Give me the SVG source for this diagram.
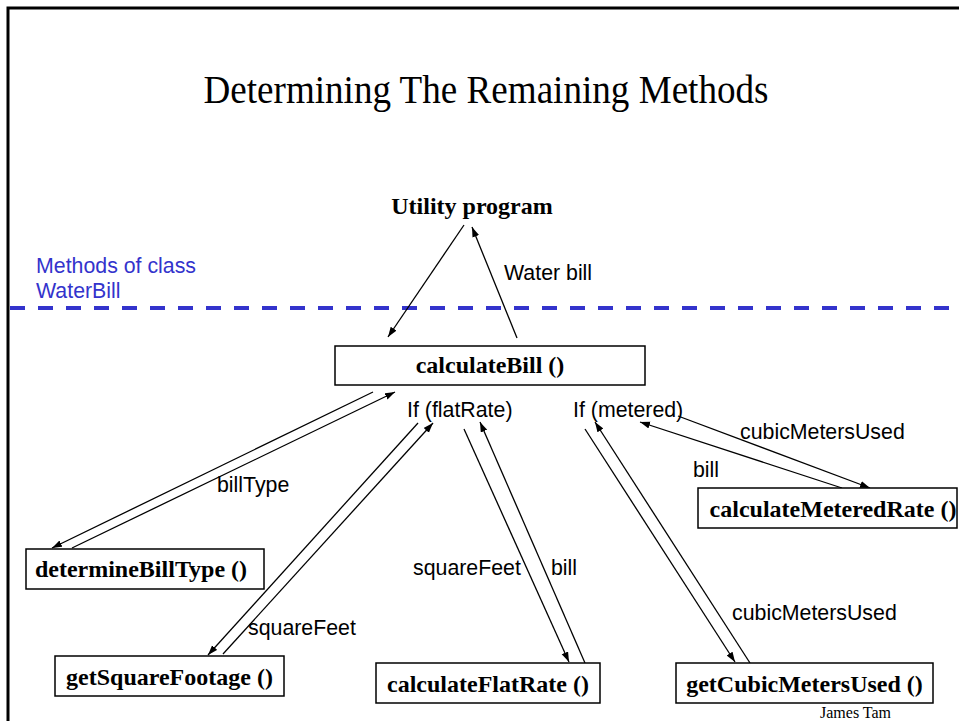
<svg xmlns="http://www.w3.org/2000/svg" width="959" height="721" viewBox="0 0 959 721">
<style>
.frame{fill:none;stroke:#000;stroke-width:3}
.box{fill:#fff;stroke:#000;stroke-width:1.5}
.bt{font-family:"Liberation Serif","Times New Roman",serif;font-weight:bold;font-size:24px;fill:#000;text-anchor:middle}
.lbl{font-family:"Liberation Sans",Arial,sans-serif;font-size:21.33px;fill:#000}
.blue{font-family:"Liberation Sans",Arial,sans-serif;font-size:21.33px;fill:#3333CC}
.title{font-family:"Liberation Serif","Times New Roman",serif;font-size:39px;fill:#000;text-anchor:middle}
.conn line{stroke:#000;stroke-width:1.3;marker-end:url(#ah)}
.dash{stroke:#3333CC;stroke-width:4;stroke-dasharray:15 13}
</style>
<defs>
<marker id="ah" markerUnits="userSpaceOnUse" markerWidth="11" markerHeight="8" refX="10" refY="3.5" orient="auto">
<path d="M0,0 L10,3.5 L0,7 z" fill="#000"/>
</marker>
</defs>
<rect width="959" height="721" fill="#fff"/>
<path class="frame" d="M8,721 V8 H959"/>
<text class="title" x="486" y="103" textLength="565" lengthAdjust="spacingAndGlyphs">Determining The Remaining Methods</text>
<g id="utility"><text class="bt" x="472" y="214">Utility program</text></g>
<g id="classlabel"><text class="blue" x="36" y="273">Methods of class</text><text class="blue" x="36" y="298">WaterBill</text></g>
<line class="dash" x1="10" y1="308" x2="959" y2="308"/>
<g class="conn" id="connectors">
<line x1="464" y1="225" x2="388" y2="337"/>
<line x1="517" y1="338" x2="472" y2="227"/>
<line x1="373" y1="392" x2="52" y2="548"/>
<line x1="72" y1="548" x2="395" y2="392"/>
<line x1="418" y1="423" x2="208" y2="655"/>
<line x1="223" y1="654" x2="433" y2="423"/>
<line x1="464" y1="429" x2="569" y2="662"/>
<line x1="585" y1="663" x2="480" y2="422"/>
<line x1="585" y1="429" x2="735" y2="662"/>
<line x1="750" y1="663" x2="595" y2="422"/>
<line x1="678" y1="416" x2="870" y2="488"/>
<line x1="842" y1="488" x2="640" y2="422"/>
</g>
<g id="calculateBill"><rect class="box" x="335" y="346" width="310" height="39"/><text class="bt" x="490" y="373">calculateBill ()</text></g>
<g id="determineBillType"><rect class="box" x="26" y="549" width="238" height="40"/><text class="bt" x="141" y="577">determineBillType ()</text></g>
<g id="getSquareFootage"><rect class="box" x="55" y="656" width="229" height="40"/><text class="bt" x="169.5" y="685">getSquareFootage ()</text></g>
<g id="calculateFlatRate"><rect class="box" x="376" y="663" width="224" height="40"/><text class="bt" x="488" y="692">calculateFlatRate ()</text></g>
<g id="getCubicMetersUsed"><rect class="box" x="676" y="663" width="257" height="40"/><text class="bt" x="804.5" y="692">getCubicMetersUsed ()</text></g>
<g id="calculateMeteredRate"><rect class="box" x="698" y="488" width="259" height="40"/><text class="bt" x="833" y="517">calculateMeteredRate ()</text></g>
<g id="labels">
<text class="lbl" x="504" y="280">Water bill</text>
<text class="lbl" x="217" y="492">billType</text>
<text class="lbl" x="407" y="417">If (flatRate)</text>
<text class="lbl" x="573" y="417">If (metered)</text>
<text class="lbl" x="740" y="439">cubicMetersUsed</text>
<text class="lbl" x="693" y="477">bill</text>
<text class="lbl" x="413" y="575">squareFeet</text>
<text class="lbl" x="551" y="575">bill</text>
<text class="lbl" x="248" y="635">squareFeet</text>
<text class="lbl" x="732" y="620">cubicMetersUsed</text>
</g>
<text x="820" y="718" style="font-family:'Liberation Serif','Times New Roman',serif;font-size:16px;fill:#000">James Tam</text>
</svg>
